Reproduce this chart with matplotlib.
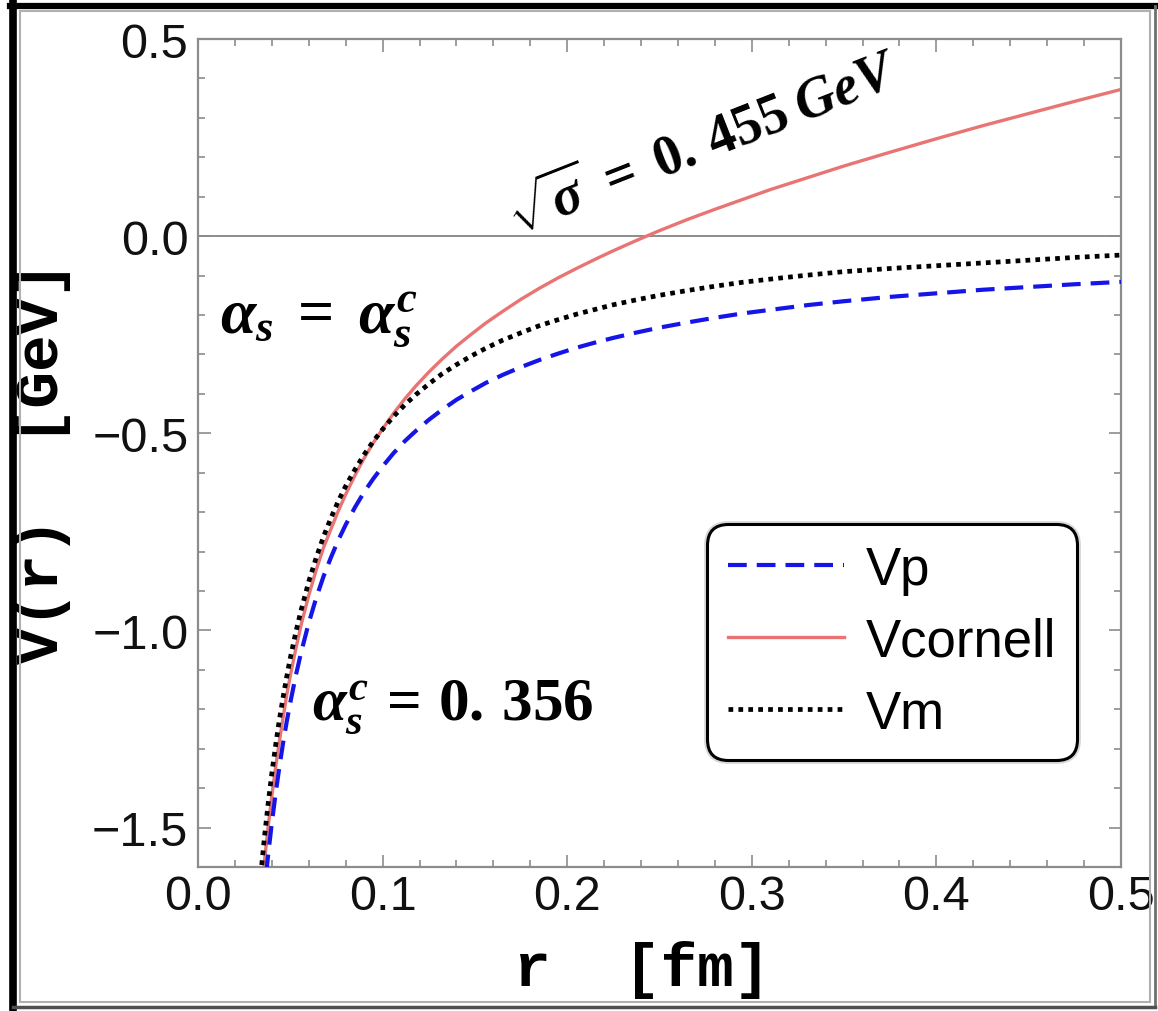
import numpy as np
import matplotlib.pyplot as plt
import matplotlib.patheffects as pe
from matplotlib.lines import Line2D
from matplotlib.ticker import MultipleLocator

plt.rcParams['mathtext.fontset'] = 'custom'
plt.rcParams['mathtext.rm'] = 'Liberation Serif:bold'
plt.rcParams['mathtext.it'] = 'Liberation Serif:bold:italic'
plt.rcParams['mathtext.bf'] = 'Liberation Serif:bold'

# radios en fm
r = [0.034, 0.036, 0.038, 0.040, 0.042, 0.044, 0.046, 0.048, 0.050, 0.053,
     0.056, 0.060, 0.064, 0.068, 0.072, 0.076, 0.080, 0.085, 0.090, 0.095,
     0.100, 0.106, 0.112, 0.118, 0.125, 0.132, 0.140, 0.148, 0.156, 0.165,
     0.175, 0.185, 0.195, 0.205, 0.215, 0.225, 0.237, 0.250, 0.265, 0.280,
     0.295, 0.310, 0.330, 0.350, 0.375, 0.400, 0.425, 0.450, 0.475, 0.500]

# potenciales en GeV
v_p = [-1.761, -1.659, -1.569, -1.488, -1.415, -1.349, -1.288, -1.233, -1.183, -1.114,
       -1.053, -0.981, -0.918, -0.863, -0.815, -0.771, -0.732, -0.688, -0.649, -0.615,
       -0.584, -0.550, -0.520, -0.494, -0.466, -0.441, -0.415, -0.393, -0.372, -0.352,
       -0.332, -0.314, -0.298, -0.283, -0.270, -0.258, -0.245, -0.232, -0.219, -0.207,
       -0.196, -0.187, -0.175, -0.165, -0.154, -0.145, -0.136, -0.129, -0.122, -0.116]

v_cornell = [-1.683, -1.585, -1.498, -1.419, -1.348, -1.283, -1.224, -1.165, -1.115, -1.046,
             -0.983, -0.911, -0.847, -0.790, -0.743, -0.697, -0.655, -0.607, -0.563, -0.524,
             -0.489, -0.449, -0.413, -0.380, -0.345, -0.313, -0.279, -0.249, -0.220, -0.191,
             -0.160, -0.132, -0.106, -0.082, -0.059, -0.037, -0.012, 0.014, 0.042, 0.068,
             0.093, 0.118, 0.148, 0.178, 0.213, 0.247, 0.280, 0.311, 0.342, 0.372]

v_m = [-1.620, -1.524, -1.439, -1.362, -1.293, -1.229, -1.172, -1.119, -1.070, -1.004,
       -0.946, -0.876, -0.816, -0.762, -0.715, -0.672, -0.634, -0.592, -0.554, -0.520,
       -0.490, -0.457, -0.428, -0.402, -0.375, -0.350, -0.326, -0.304, -0.284, -0.264,
       -0.245, -0.227, -0.212, -0.198, -0.186, -0.174, -0.162, -0.150, -0.138, -0.127,
       -0.117, -0.109, -0.099, -0.090, -0.082, -0.075, -0.068, -0.061, -0.054, -0.048]

W, H = 1158, 1012
fig = plt.figure(figsize=(W / 100, H / 100), dpi=100)
ax = fig.add_axes([198 / W, 1 - 868 / H, (1121 - 198) / W, (868 - 40) / H])

gris = '#8c8c8c'
ax.axhline(0, color=gris, lw=1.4, zorder=1)

ax.plot(r, v_p, color='#1515e8', lw=3.0, ls=(0, (4.5, 2.4)), label='Vp', zorder=3)
ax.plot(r, v_cornell, color='#e87474', lw=2.4, label='Vcornell', zorder=2)
ax.plot(r, v_m, color='black', lw=3.4, ls=(0, (1, 1.1)), label='Vm', zorder=4)

ax.set_xlim(0, 0.5)
ax.set_ylim(-1.6, 0.5)
ax.xaxis.set_major_locator(MultipleLocator(0.1))
ax.xaxis.set_minor_locator(MultipleLocator(0.02))
ax.yaxis.set_major_locator(MultipleLocator(0.5))
ax.yaxis.set_minor_locator(MultipleLocator(0.1))
ax.xaxis.set_major_formatter(lambda x, pos: f'{x:.1f}')
ax.yaxis.set_major_formatter(lambda y, pos: f'{y:.1f}'.replace('-', '\u2212'))

for s in ax.spines.values():
    s.set_color(gris)
    s.set_linewidth(1.6)
ax.tick_params(which='both', direction='in', top=True, right=True, color=gris, width=1.2)
ax.tick_params(which='major', length=9)
ax.tick_params(which='minor', length=5)
ax.tick_params(axis='x', pad=5)
ax.tick_params(axis='y', pad=7)
for lab in ax.get_xticklabels() + ax.get_yticklabels():
    lab.set_family('Liberation Sans')
    lab.set_fontsize(35)
    lab.set_color('#111111')

ax.set_xlabel('r  [fm]', family='Liberation Mono', weight='bold', fontsize=44)
ax.set_ylabel('V(r)  [GeV]', family='Liberation Mono', weight='bold', fontsize=44)
ax.xaxis.set_label_coords(0.481, -0.088)
ax.yaxis.set_label_coords(-0.138, 0.49)

# anotaciones de parametros
ax.text(0.012, -0.205, r'$\alpha_s\;=\;\alpha_s^c$', fontsize=46, ha='left', va='center')
ax.text(0.062, -1.19, r'$\alpha_s^c\,=\,0.\,356$', fontsize=44, ha='left', va='center')
ax.text(0.2740, 0.232, r'$\sqrt{\sigma}\;=\;0.\,455\;GeV$', fontsize=40, ha='center',
        va='center', rotation=21.5, rotation_mode='anchor')

leg = ax.legend(loc='upper left', bbox_to_anchor=((716 - 198) / 923, (868 - 534) / 828),
                borderaxespad=0, prop={'family': 'Liberation Sans', 'size': 38},
                handlelength=2.2, handletextpad=0.42, labelspacing=0.42, borderpad=0.22,
                fancybox=True, framealpha=1, edgecolor='black')
marco = leg.get_frame()
marco.set_linewidth(2.2)
marco.set_boxstyle('round', pad=0.18, rounding_size=0.4)
marco.set_path_effects([pe.Stroke(linewidth=5, foreground='#d8d8d8'), pe.Normal()])

# marco exterior
def px(x, y):
    return x / W, 1 - y / H

fig.add_artist(Line2D(*zip(px(13, 3), px(13, 1012)), color='black', lw=5.5, transform=fig.transFigure))
fig.add_artist(Line2D(*zip(px(10, 7), px(1158, 7)), color='black', lw=4.5, transform=fig.transFigure))
for a, b in [((20, 12), (20, 1003)), ((20, 12), (1150, 12)), ((1150, 12), (1150, 1003)),
             ((20, 1003), (1150, 1003))]:
    fig.add_artist(Line2D(*zip(px(*a), px(*b)), color='#b0b0b0', lw=1.5, transform=fig.transFigure))
fig.add_artist(Line2D(*zip(px(1155, 7), px(1155, 1008)), color='#707070', lw=2, transform=fig.transFigure))
fig.add_artist(Line2D(*zip(px(13, 1008), px(1155, 1008)), color='#505050', lw=2.5, transform=fig.transFigure))

fig.savefig('out.png', dpi=100)
